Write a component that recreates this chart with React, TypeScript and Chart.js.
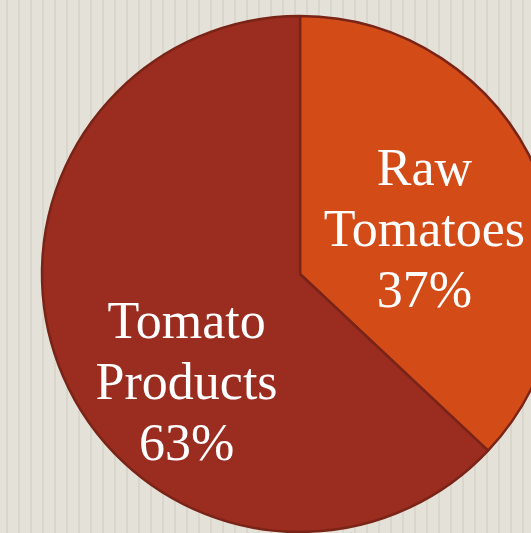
import React, { useEffect, useRef } from "react";
import { Chart, registerables } from "chart.js";

Chart.register(...registerables);

const categories = ["Raw Tomatoes", "Tomato Products"];
const values = [37, 63];
const labelLines = [
  ["Raw", "Tomatoes", "37%"],
  ["Tomato", "Products", "63%"],
];
const sliceColors = ["#d34c17", "#9a2d20"];
const labelOffsets = [
  [6, 23],
  [5, 74],
];

const labelPlugin = {
  id: "sliceLabels",
  afterDatasetsDraw(chart: any) {
    const ctx = chart.ctx;
    const meta = chart.getDatasetMeta(0);
    ctx.save();
    ctx.fillStyle = "#ffffff";
    ctx.font = '52px "Liberation Serif", "Times New Roman", serif';
    ctx.textAlign = "center";
    ctx.textBaseline = "alphabetic";
    meta.data.forEach((arc: any, i: number) => {
      const p = arc.getCenterPoint();
      const [ox, oy] = labelOffsets[i];
      const lines = labelLines[i];
      const lh = 61;
      lines.forEach((t, j) => {
        ctx.fillText(t, p.x + ox, p.y + oy + (j - 1) * lh);
      });
    });
    ctx.restore();
  },
};

export default function App() {
  const ref = useRef<HTMLCanvasElement | null>(null);
  useEffect(() => {
    if (!ref.current) return;
    const chart = new Chart(ref.current, {
      type: "pie",
      data: {
        labels: categories,
        datasets: [
          {
            data: values,
            backgroundColor: sliceColors,
            borderColor: "#7a2317",
            borderWidth: 2.5,
          },
        ],
      },
      options: {
        responsive: false,
        animation: false,
        radius: 258,
        plugins: {
          legend: { display: false },
          tooltip: { enabled: false },
        },
      },
      plugins: [labelPlugin],
    });
    return () => chart.destroy();
  }, []);
  return (
    <div
      style={{
        position: "fixed",
        left: 0,
        top: 0,
        width: 531,
        height: 533,
        overflow: "hidden",
        background:
          "repeating-linear-gradient(90deg, #e4e1d8 0px, #e4e1d8 6px, #dad6cc 6px, #dad6cc 8px, #e4e1d8 8px, #e4e1d8 12px)",
      }}
    >
      <canvas ref={ref} width={600} height={548} style={{ display: "block" }} />
    </div>
  );
}
